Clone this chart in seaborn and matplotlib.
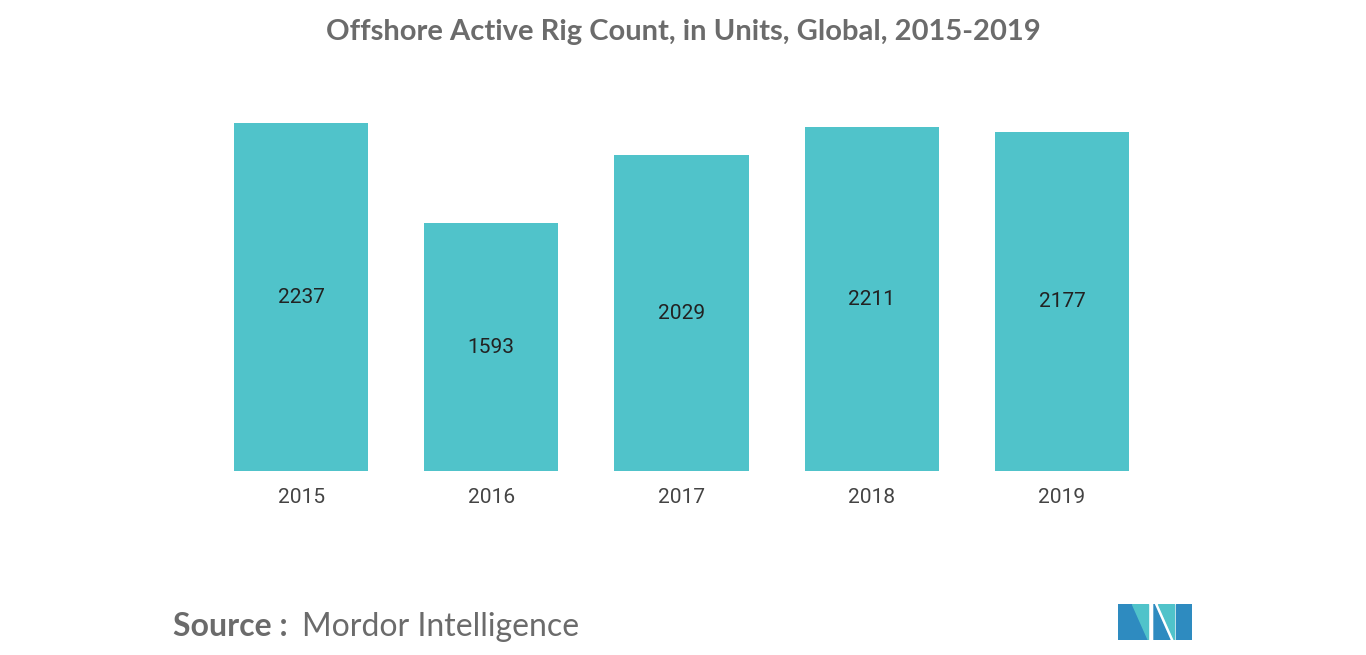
import matplotlib
matplotlib.use("Agg")
import matplotlib.pyplot as plt
import seaborn as sns
import pandas as pd
from matplotlib.patches import Polygon

years = ["2015", "2016", "2017", "2018", "2019"]
counts = [2237, 1593, 2029, 2211, 2177]
df = pd.DataFrame({"year": years, "count": counts})

W, H = 1366, 655
fig = plt.figure(figsize=(W/100, H/100), dpi=100)
ax = fig.add_axes([206/W, 1-471/H, (1157-206)/W, (471-100)/H])
sns.barplot(data=df, x="year", y="count", color="#50C3CA", saturation=1, width=0.705, ax=ax)
ax.set_xlim(-0.5, 4.5)
ax.set_ylim(0, 2385)
for i, v in enumerate(counts):
    ax.text(i, v/2, str(v), ha="center", va="center", fontsize=15, family="Roboto", color="#222222")
ax.set_xlabel(""); ax.set_ylabel("")
ax.set_yticks([])
ax.tick_params(axis="x", length=0, pad=12, labelsize=15, labelcolor="#444444")
for lab in ax.get_xticklabels():
    lab.set_family("Roboto")
for s in ax.spines.values():
    s.set_visible(False)

fig.text(683/W, 1-32/H, "Offshore Active Rig Count, in Units, Global, 2015-2019", ha="center", va="center",
         fontsize=21, color="#6b6b6b", family="Lato", fontweight="bold")
fig.text(173/W, 1-627/H, "Source :", ha="left", va="center", fontsize=23, color="#6b6b6b", family="Lato", fontweight="bold")
fig.text(302/W, 1-627/H, "Mordor Intelligence", ha="left", va="center", fontsize=23, color="#6b6b6b", family="Lato")

# logo
lax = fig.add_axes([1118/W, 1-640/H, 74/W, 36/H])
lax.set_xlim(0, 74); lax.set_ylim(0, 36); lax.axis("off")
lax.add_patch(Polygon([(0,0),(0,36),(14,36),(30,0)], color="#2E8BC0"))
lax.add_patch(Polygon([(14,36),(30,36),(30,0)], color="#50C3CA"))
lax.add_patch(Polygon([(36,0),(36,36),(52,0)], color="#2E8BC0"))
lax.add_patch(Polygon([(40,36),(56,36),(56,0)], color="#50C3CA"))
lax.add_patch(Polygon([(58,0),(58,36),(74,36),(74,0)], color="#2E8BC0"))
fig.savefig("out.png", dpi=100)
